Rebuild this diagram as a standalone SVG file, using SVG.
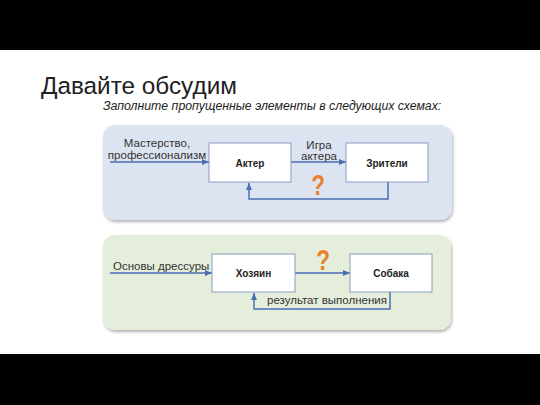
<svg xmlns="http://www.w3.org/2000/svg" width="540" height="405" viewBox="0 0 540 405">
<defs>
<marker id="ah" markerWidth="8" markerHeight="8" refX="7" refY="4" orient="auto" markerUnits="userSpaceOnUse">
<path d="M0,1 L7,4 L0,7 Z" fill="#4a6fb5"/>
</marker>
<filter id="sh" x="-5%" y="-5%" width="110%" height="115%">
<feDropShadow dx="1" dy="2" stdDeviation="1.5" flood-color="#000" flood-opacity="0.3"/>
</filter>
</defs>
<style>
.t{font-family:"Liberation Sans",Arial,sans-serif;fill:#222}
.lbl{font-family:"Liberation Sans",Arial,sans-serif;font-size:11.5px;fill:#333}
.bx{fill:#fff;stroke:#8a9cc0;stroke-width:1}
.bt{font-family:"Liberation Sans",Arial,sans-serif;font-size:10px;font-weight:bold;fill:#222;text-anchor:middle}
.cn{fill:none;stroke:#4a6fb5;stroke-width:1.5}
.q{font-family:"Liberation Sans",Arial,sans-serif;font-size:30px;font-weight:bold;fill:#e8802c;text-anchor:middle}
</style>
<rect x="0" y="0" width="540" height="405" fill="#fff"/>
<rect x="0" y="0" width="540" height="50" fill="#000"/>
<rect x="0" y="354" width="540" height="51" fill="#000"/>
<text class="t" x="41" y="94" font-size="24.3">Давайте обсудим</text>
<text class="t" x="103" y="110" font-size="12.3" font-style="italic" fill="#333">Заполните пропущенные элементы в следующих схемах:</text>
<rect x="103" y="125" width="349" height="95" rx="12" fill="#dce3f1" filter="url(#sh)"/>
<rect x="103" y="235" width="348" height="95" rx="12" fill="#e4eedb" filter="url(#sh)"/>
<g id="connectors">
<line class="cn" x1="110" y1="162" x2="209" y2="162" marker-end="url(#ah)"/>
<line class="cn" x1="291" y1="162" x2="346" y2="162" marker-end="url(#ah)"/>
<polyline class="cn" points="388,182 388,199 249,199 249,183" marker-end="url(#ah)"/>
<line class="cn" x1="110" y1="273" x2="212" y2="273" marker-end="url(#ah)"/>
<line class="cn" x1="295" y1="273" x2="350" y2="273" marker-end="url(#ah)"/>
<polyline class="cn" points="390,292 390,309 254,309 254,293" marker-end="url(#ah)"/>
</g>
<text class="lbl" x="157" y="147" text-anchor="middle">Мастерство,</text>
<text class="lbl" x="157" y="159" text-anchor="middle">профессионализм</text>
<text class="lbl" x="319" y="149" text-anchor="middle">Игра</text>
<text class="lbl" x="319" y="160" text-anchor="middle">актера</text>
<text class="q" transform="translate(318,195) scale(0.75,1)">?</text>
<text class="lbl" x="113" y="270">Основы дрессуры</text>
<text class="q" transform="translate(323,270) scale(0.75,1)">?</text>
<text class="lbl" x="267" y="304" font-size="11.2">результат выполнения</text>
<g id="actor"><rect class="bx" x="209" y="143" width="82" height="39"/><text class="bt" x="250" y="167">Актер</text></g>
<g id="viewers"><rect class="bx" x="346" y="143" width="82" height="39"/><text class="bt" x="387" y="167">Зрители</text></g>
<g id="owner"><rect class="bx" x="212" y="254" width="83" height="38"/><text class="bt" x="253.5" y="277">Хозяин</text></g>
<g id="dog"><rect class="bx" x="350" y="254" width="82" height="38"/><text class="bt" x="391" y="277">Собака</text></g>
</svg>
